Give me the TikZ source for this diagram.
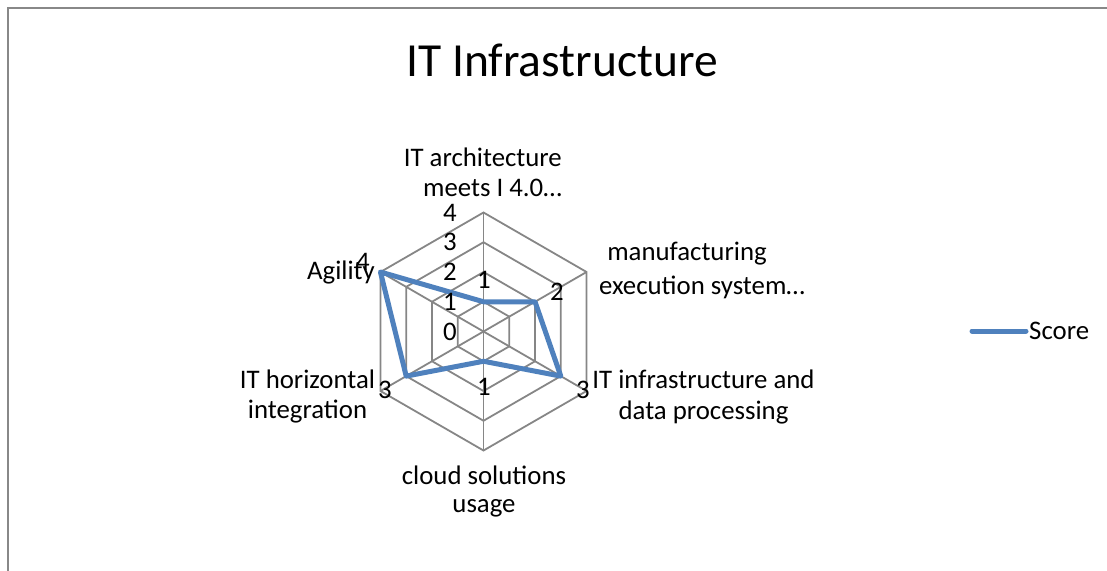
\documentclass[tikz,border=0pt]{standalone}
\usepackage{fontspec}
\setmainfont{Carlito}
\usetikzlibrary{calc}
\definecolor{seriesblue}{RGB}{79,129,189}
\definecolor{gridgray}{RGB}{134,134,134}
\definecolor{framegray}{RGB}{136,136,136}
\tikzset{
  lbl/.style={font=\fontsize{26.8}{32}\selectfont, inner sep=0pt, text=black},
  gridline/.style={draw=gridgray, line width=1.8pt},
  series/.style={draw=seriesblue, line width=5pt, line join=round},
}
\begin{document}
\begin{tikzpicture}[x=1pt,y=-1pt]
\useasboundingbox (0,0) rectangle (1107,570);
% chart frame (left and top edges)
\draw[framegray, line width=2pt] (8,575) -- (8,8) -- (1112,8);

% title
\node[lbl, font=\fontsize{47.5}{56}\selectfont] (title) at (562,60) {IT Infrastructure};

% radar grid: centre, unit radius 29.75 per score point
\coordinate (c) at (483.5,331.5);
\foreach \k in {1,...,4}{
  \draw[gridline] ($(c)+(-90:29.75*\k)$) -- ($(c)+(-30:29.75*\k)$) -- ($(c)+(30:29.75*\k)$)
    -- ($(c)+(90:29.75*\k)$) -- ($(c)+(150:29.75*\k)$) -- ($(c)+(210:29.75*\k)$) -- cycle;
}
\foreach \a/\n in {-90/a1,-30/a2,30/a3,90/a4,150/a5,210/a6}{
  \coordinate (\n) at ($(c)+(\a:119)$);
  \draw[gridline] (c) -- (\n);
}

% score series: 1, 2, 3, 1, 3, 4
\coordinate (p1) at ($(c)+(-90:29.75)$);
\coordinate (p2) at ($(c)+(-30:59.5)$);
\coordinate (p3) at ($(c)+(30:89.25)$);
\coordinate (p4) at ($(c)+(90:29.75)$);
\coordinate (p5) at ($(c)+(150:89.25)$);
\coordinate (p6) at ($(c)+(210:119)$);
\draw[series] (p1) -- (p2) -- (p3) -- (p4) -- (p5) -- (p6) -- cycle;

% axis scale
\foreach \k in {0,...,4}{
  \node[lbl, anchor=east] (tick\k) at (457,{331.5-29.75*\k}) {\k};
}

% data labels
\node[lbl] (d1) at (484,280) {1};
\node[lbl] (d2) at (557,292) {2};
\node[lbl] (d3) at (583,390) {3};
\node[lbl] (d4) at (484,387) {1};
\node[lbl] (d5) at (385,390) {3};
\node[lbl] (d6) at (363,262) {4};

% category labels
\node[lbl, anchor=east] (c1a) at (562,157) {IT architecture};
\node[lbl, anchor=east] (c1b) at (562,187.5) {meets I 4.0…};
\node[lbl] (c2a) at (687,254) {manufacturing};
\node[lbl] (c2b) at (702,287) {execution system…};
\node[lbl] (c3a) at (703.5,379) {IT infrastructure and};
\node[lbl] (c3b) at (703.5,412) {data processing};
\node[lbl] (c4a) at (484,475) {cloud solutions};
\node[lbl] (c4b) at (484,508) {usage};
\node[lbl] (c5a) at (307.5,379) {IT horizontal};
\node[lbl] (c5b) at (307.5,412) {integration};
\node[lbl, anchor=east] (c6) at (375,272) {Agility};

% legend
\coordinate (lg1) at (972,331);
\coordinate (lg2) at (1026,331);
\draw[series, line cap=round] (lg1) -- (lg2);
\node[lbl, anchor=west] (leg) at (1029,331) {Score};
\end{tikzpicture}
\end{document}
